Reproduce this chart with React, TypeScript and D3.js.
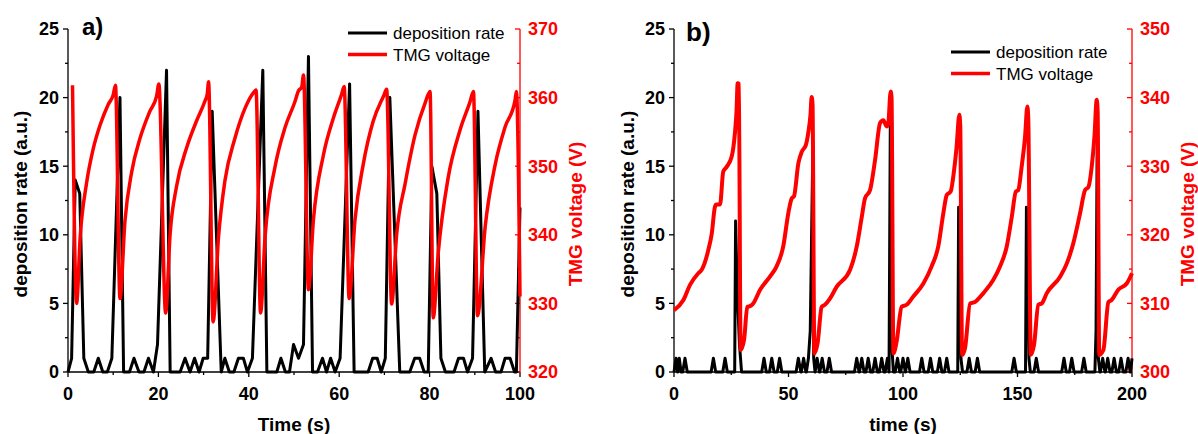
import React from "react";
import * as d3 from "d3";

// ---------- Panel a data ----------
const rateA: [number, number][] = [
  [0,0],[0.8,1],[1.6,14],[2.6,13],[3.5,1],[4.5,0],[5.7,0],[6.7,1],[7.7,0],[8.7,0],[9.7,1],
  [11.5,20],[12.3,0],[13.6,0],[14.6,1],[15.7,0],[16.8,0],[17.8,1],[18.9,0],[19.8,2],[21.8,22],
  [22.6,0],[24.8,0],[25.9,1],[27,0],[28,1],[29,0],[29.9,1],[30.9,1],[31.9,19],[33.9,0],[34.7,1],
  [35.7,0],[36.7,0],[37.7,1],[38.8,1],[39.7,0],[40.8,1],[43.1,22],[44,0],[46.2,0],[47.1,1],
  [48.1,0],[49,0],[49.9,2],[51,1],[52.1,2],[53.2,23],[54.1,0],[55.2,0],[56.3,1],[57.2,0],
  [58.1,1],[59.1,0],[60.2,1],[62.3,21],[63.3,0],[66.4,0],[67.4,1],[68.4,1],[69.3,0],[70.2,1],
  [71.2,20],[73.4,0],[75.6,0],[76.7,1],[77.8,1],[78.8,0],[79.7,0],[80.5,15],[81.6,13],[82.5,1],
  [83.5,0],[85.4,0],[86.4,1],[87.5,1],[88.4,0],[89.5,1],[90.7,19],[92.2,0],[93.6,1],[94.6,0],
  [95.8,0],[96.7,1],[97.8,1],[98.8,0],[99.2,0],[100,12]
];
const voltA: [number, number][] = [
  [1.0,361.8],[1.9,330.0],
  [2.7,339.7],[4.1,347.5],[5.6,352.6],[7.1,356.0],[8.9,359.0],[10.0,360.4],[10.5,361.8],[11.5,330.7],
  [12.6,342.0],[14.1,349.2],[15.9,354.0],[18.1,358.0],[19.6,360.2],[20.1,362.0],[21.6,328.6],
  [22.6,340.2],[24.0,347.0],[26.3,352.8],[28.5,356.7],[30.3,359.5],[30.8,360.5],[31.1,362.3],[32.1,327.3],
  [33.3,339.7],[34.7,347.8],[36.9,354.0],[39.2,358.5],[41.0,360.7],[41.6,361.1],[42.6,328.6],
  [43.6,339.7],[45.8,349.9],[48.0,355.6],[50.2,359.4],[51.0,361.0],[51.7,361.5],[52.1,363.3],[53.2,332.0],
  [54.3,342.2],[56.5,351.6],[58.7,357.0],[60.5,360.4],[61.1,361.6],[62.2,330.7],
  [63.5,342.2],[65.3,350.2],[67.5,356.5],[69.8,360.2],[70.5,361.2],[71.6,329.9],
  [72.7,340.0],[74.6,347.5],[76.8,354.6],[79.0,359.2],[80.1,360.9],[80.8,327.9],
  [81.9,337.3],[84.1,348.3],[86.7,355.2],[88.9,359.3],[89.7,360.9],[90.6,328.2],
  [92.3,341.2],[94.5,350.2],[96.7,355.7],[98.9,359.6],[99.2,360.9],[100,331.0]
];

// ---------- Panel b data ----------
const rateB: [number, number][] = [
  [0,0],[0.9,1],[1.6,0],[2.3,1],[3.1,0],[3.8,0],[4.8,1],[5.8,0],
  [16.2,0],[17.2,1],[18.2,0],[21.3,0],[22.3,1],[23.3,0],
  [26.5,0],[26.9,11],[27.6,6],[28.6,2],[29.5,0],
  [38.3,0],[39.3,1],[40.3,0],[41.7,0],[42.7,1],[43.7,0],[45.1,0],[46.1,1],[47.1,0],
  [53.3,0],[54.3,1],[55.4,0],[55.6,0],[56.6,1],[57.6,0],
  [57.8,0],[58.7,1],[59.5,3],[60.6,16],[61.0,1],[61.6,0],
  [61.6,0],[62.5,1],[63.5,0],[63.7,0],[64.7,1],[65.7,0],[66.8,0],[67.8,1],[68.8,0],
  [78.8,0],[79.8,1],[80.8,0],[81.0,0],[82.0,1],[83.0,0],[83.8,0],[84.8,1],[85.8,0],
  [86.8,0],[87.8,1],[88.8,0],[89.7,0],[90.7,1],[91.7,0],
  [92.2,0],[93.2,1],[93.9,0],[94.5,19.5],[95.1,2],[95.8,0],
  [96.6,0],[97.6,1],[98.6,0],[99.0,0],[100.0,1],[101.0,0],[101.1,0],[102.1,1],[103.1,0],
  [107.2,0],[108.2,1],[109.2,0],[111.0,0],[112.0,1],[113.0,0],[115.0,0],[116.0,1],[117.0,0],
  [118.1,0],[119.1,1],[120.1,0],
  [123.9,0],[124.3,12],[124.8,11],[125.3,1],[126.0,0],
  [127.9,0],[128.9,1],[129.9,0],[131.5,0],[132.5,1],[133.5,0],
  [147.5,0],[148.5,1],[149.5,0],
  [153.5,0],[153.9,12],[154.4,11],[155.0,1],[155.6,0],
  [157.2,0],[158.2,1],[159.2,0],
  [169.3,0],[170.3,1],[171.3,0],[172.7,0],[173.7,1],[174.7,0],[178.0,0],[179.0,1],[180.0,0],
  [183.8,0],[184.3,3],[184.8,17],[185.3,1],[186.0,0],
  [186.2,0],[187.2,1],[188.2,0],[188.4,0],[189.4,1],[190.4,0],[191.2,0],[192.2,1],[193.2,0],
  [194.2,0],[195.2,1],[196.2,0],[197.3,0],[198.3,1],[199.2,0],[199.4,0],[200,1]
];
const voltB: [number, number][] = [
  [0,309.0],[4.1,310.5],[7,312.7],[10.6,314.4],[12.1,314.9],[15,317.8],[16.5,320.2],[17.9,324.1],
  [18.5,324.4],[20.1,324.4],[21.5,329.2],[23,329.9],[25.2,331.4],[26.6,334.8],[27.3,338],[27.8,342.1],
  [28.3,342],[29.1,303.2],[30.6,304.7],[32,309.5],[33.2,309.6],[34.6,310],[37.6,312],[41.9,313.9],
  [44.8,315.4],[47.7,318.3],[49.9,323.1],[51.4,325.3],[52.4,325.6],[54.3,330.4],[55.8,332.1],
  [57.6,333.1],[58.6,334.8],[59.6,337.5],[60.1,340.1],[60.5,339],[61.3,302.7],[62.7,304.2],
  [64.5,309.5],[65.9,309.8],[68.1,310.7],[71,312.4],[76.9,314.9],[79.8,318.3],[82,322.6],
  [83.4,325.3],[85.6,326.5],[87.8,330.9],[90,336.3],[91.4,336.7],[92.9,335.8],[93.6,336.3],
  [94.6,340.9],[95.0,340],[95.8,302.7],[97.2,304.4],[99.4,309.5],[101.6,309.8],[104.5,311],
  [108.9,312.9],[112.5,315.4],[115.4,318.3],[117.6,323.1],[119.1,325.8],[120.8,326.3],
  [122.3,329.4],[123.4,332.8],[124.6,337.5],[125.0,336],[125.8,302.5],[127.1,303.5],[129.3,310],
  [131.4,310.2],[135.1,311.5],[139.4,313.4],[142.4,315.4],[145.3,318.3],[147.5,322.6],
  [149.3,326.3],[150.3,326.5],[151.8,329.9],[153.3,334.3],[154.3,338.7],[154.7,337],[155.8,302.5],
  [157.2,303.9],[159.1,309.8],[160.6,310],[162.8,311.5],[168.6,313.9],[171.5,315.8],[174.4,318.8],
  [177.3,323.1],[179.5,326.5],[181,327],[182.4,329.9],[183.6,334.3],[184.6,339.7],[185.0,338],
  [185.7,302.5],[187.5,303.2],[189.7,310.2],[191.1,310.5],[194,312],[197.7,312.9],[200,314.4]
];

// ---------- Ticks ----------
const leftTicks = [0, 5, 10, 15, 20, 25];
const leftMinor = [2.5, 7.5, 12.5, 17.5, 22.5];
const xTicksA = [0, 20, 40, 60, 80, 100];
const xMinorA = [10, 30, 50, 70, 90];
const rightTicksA = [320, 330, 340, 350, 360, 370];
const rightMinorA = [325, 335, 345, 355, 365];
const xTicksB = [0, 50, 100, 150, 200];
const xMinorB = [25, 75, 125, 175];
const rightTicksB = [300, 310, 320, 330, 340, 350];
const rightMinorB = [305, 315, 325, 335, 345];

const RED = "#ff0000";
const FONT = "'Liberation Sans', Arial, sans-serif";

type Cfg = {
  x0: number; x1: number; top: number; bottom: number;
  xDomain: [number, number]; xTicks: number[]; xMinor: number[];
  rDomain: [number, number]; rTicks: number[]; rMinor: number[];
  rate: [number, number][]; volt: [number, number][];
  label: string; labelX: number; labelY: number; labelSize: number;
  xTitle: string;
  leftTitleX: number; rightTitleX: number;
  legX: number; legY: number;
  rateW: number; voltW: number;
};

function Panel({ c }: { c: Cfg }) {
  const x = d3.scaleLinear().domain(c.xDomain).range([c.x0, c.x1]);
  const yl = d3.scaleLinear().domain([0, 25]).range([c.bottom, c.top]);
  const yr = d3.scaleLinear().domain(c.rDomain).range([c.bottom, c.top]);
  const rateLine = d3.line<[number, number]>().x(d => x(d[0])).y(d => yl(d[1]));
  const voltLine = d3.line<[number, number]>().x(d => x(d[0])).y(d => yr(d[1])).curve(d3.curveMonotoneX);
  const axW = 1.3;
  return (
    <g>
      {/* left axis */}
      <line x1={c.x0} x2={c.x0} y1={c.top} y2={c.bottom} stroke="#000" strokeWidth={axW} />
      {leftTicks.map(t => (
        <g key={"l" + t}>
          <line x1={c.x0 - 5} x2={c.x0} y1={yl(t)} y2={yl(t)} stroke="#000" strokeWidth={axW} />
          <text x={c.x0 - 9} y={yl(t)} dy="0.36em" textAnchor="end" fontSize={18} fontWeight="bold" fontFamily={FONT}>{t}</text>
        </g>
      ))}
      {leftMinor.map(t => (
        <line key={"lm" + t} x1={c.x0 - 3} x2={c.x0} y1={yl(t)} y2={yl(t)} stroke="#000" strokeWidth={axW} />
      ))}
      {/* bottom axis */}
      <line x1={c.x0} x2={c.x1} y1={c.bottom} y2={c.bottom} stroke="#000" strokeWidth={axW} />
      {c.xTicks.map(t => (
        <g key={"x" + t}>
          <line x1={x(t)} x2={x(t)} y1={c.bottom} y2={c.bottom + 5} stroke="#000" strokeWidth={axW} />
          <text x={x(t)} y={400} textAnchor="middle" fontSize={18} fontWeight="bold" fontFamily={FONT}>{t}</text>
        </g>
      ))}
      {c.xMinor.map(t => (
        <line key={"xm" + t} x1={x(t)} x2={x(t)} y1={c.bottom} y2={c.bottom + 3} stroke="#000" strokeWidth={axW} />
      ))}
      {/* right axis */}
      <line x1={c.x1} x2={c.x1} y1={c.top} y2={c.bottom} stroke={RED} strokeWidth={axW} />
      {c.rTicks.map(t => (
        <g key={"r" + t}>
          <line x1={c.x1 - 5} x2={c.x1} y1={yr(t)} y2={yr(t)} stroke={RED} strokeWidth={axW} />
          <text x={c.x1 + 8} y={yr(t)} dy="0.36em" textAnchor="start" fontSize={18} fontWeight="bold" fontFamily={FONT} fill={RED}>{t}</text>
        </g>
      ))}
      {c.rMinor.map(t => (
        <line key={"rm" + t} x1={c.x1 - 3} x2={c.x1} y1={yr(t)} y2={yr(t)} stroke={RED} strokeWidth={axW} />
      ))}
      {/* titles */}
      <text transform={`translate(${c.leftTitleX},204) rotate(-90)`} textAnchor="middle" fontSize={19} fontWeight="bold" fontFamily={FONT}>deposition rate (a.u.)</text>
      <text transform={`translate(${c.rightTitleX},214) rotate(-90)`} textAnchor="middle" fontSize={19} fontWeight="bold" fontFamily={FONT} fill={RED}>TMG voltage (V)</text>
      <text x={(c.x0 + c.x1) / 2} y={431} textAnchor="middle" fontSize={19} fontWeight="bold" fontFamily={FONT}>{c.xTitle}</text>
      <text x={c.labelX} y={c.labelY} fontSize={c.labelSize} fontWeight="bold" fontFamily={FONT}>{c.label}</text>
      {/* data */}
      <path d={rateLine(c.rate) || ""} fill="none" stroke="#000" strokeWidth={c.rateW} strokeLinejoin="round" />
      <path d={voltLine(c.volt) || ""} fill="none" stroke={RED} strokeWidth={c.voltW} strokeLinejoin="round" />
      {/* legend */}
      <line x1={c.legX} x2={c.legX + 39} y1={c.legY} y2={c.legY} stroke="#000" strokeWidth={3} />
      <text x={c.legX + 45} y={c.legY + 6} fontSize={17} fontFamily={FONT}>deposition rate</text>
      <line x1={c.legX} x2={c.legX + 39} y1={c.legY + 21.5} y2={c.legY + 21.5} stroke={RED} strokeWidth={3.5} />
      <text x={c.legX + 45} y={c.legY + 27.5} fontSize={17} fontFamily={FONT}>TMG voltage</text>
    </g>
  );
}

export default function App() {
  const a: Cfg = {
    x0: 68, x1: 520, top: 29, bottom: 372, xDomain: [0, 100], xTicks: xTicksA, xMinor: xMinorA,
    rDomain: [320, 370], rTicks: rightTicksA, rMinor: rightMinorA, rate: rateA, volt: voltA,
    label: "a)", labelX: 82, labelY: 35, labelSize: 24, xTitle: "Time (s)",
    leftTitleX: 27, rightTitleX: 582, legX: 348, legY: 33, rateW: 3, voltW: 3.5,
  };
  const b: Cfg = {
    x0: 674, x1: 1132, top: 29, bottom: 372, xDomain: [0, 200], xTicks: xTicksB, xMinor: xMinorB,
    rDomain: [300, 350], rTicks: rightTicksB, rMinor: rightMinorB, rate: rateB, volt: voltB,
    label: "b)", labelX: 686, labelY: 41, labelSize: 26, xTitle: "time (s)",
    leftTitleX: 634, rightTitleX: 1194, legX: 951, legY: 52, rateW: 3, voltW: 4,
  };
  return (
    <svg width={1198} height={434} style={{ position: "absolute", left: 0, top: 0, background: "#fff" }}>
      <rect width={1198} height={434} fill="#fff" />
      <Panel c={a} />
      <Panel c={b} />
    </svg>
  );
}
